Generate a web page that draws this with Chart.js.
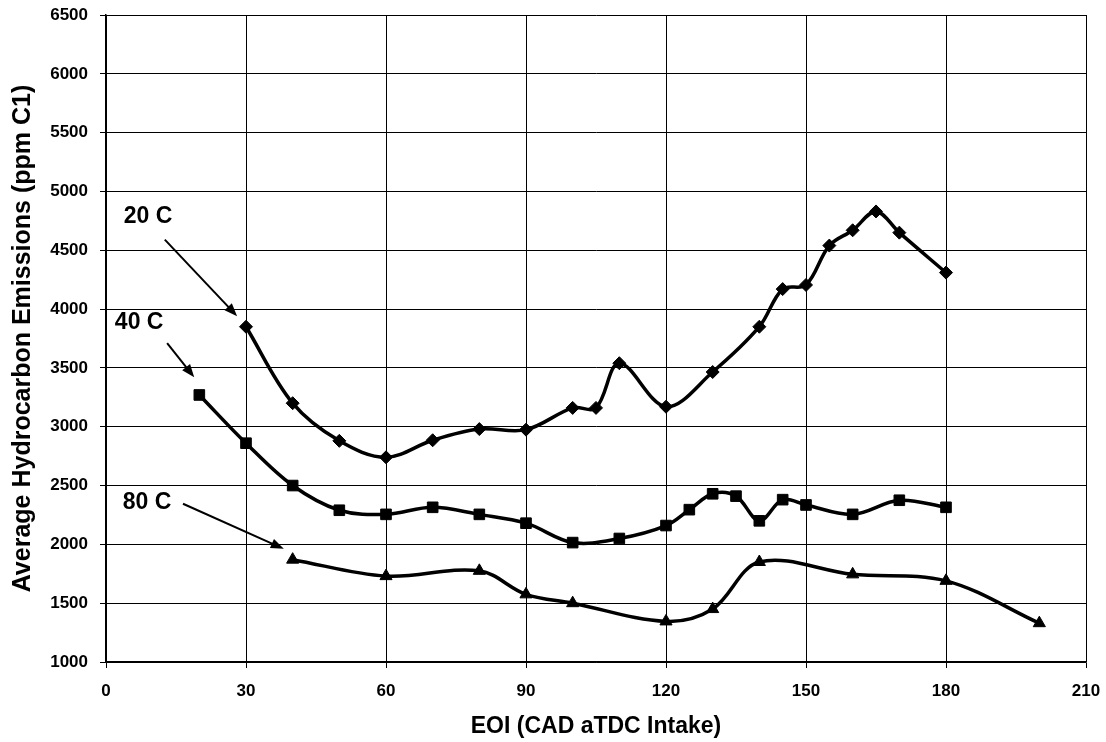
<!DOCTYPE html>
<html>
<head>
<meta charset="utf-8">
<script src="https://cdn.jsdelivr.net/npm/chart.js@4"></script>
<style>
  body { margin: 0; background: #fff; }
</style>
</head>
<body>
<canvas id="hcChart" width="1106" height="742"></canvas>
<script>
// data
const eoi20 = [30, 40, 50, 60, 70, 80, 90, 100, 105, 110, 120, 130, 140, 145, 150, 155, 160, 165, 170, 180];
const hc20 = [3850, 3200, 2880, 2740, 2885, 2980, 2975, 3160, 3160, 3540, 3170, 3465, 3850, 4170, 4205, 4540, 4670, 4830, 4650, 4310];

const eoi40 = [20, 30, 40, 50, 60, 70, 80, 90, 100, 110, 120, 125, 130, 135, 140, 145, 150, 160, 170, 180];
const hc40 = [3270, 2860, 2500, 2290, 2255, 2315, 2255, 2180, 2015, 2050, 2160, 2295, 2430, 2410, 2200, 2380, 2335, 2255, 2375, 2315];

const eoi80 = [40, 60, 80, 90, 100, 120, 130, 140, 160, 180, 200];
const hc80 = [1870, 1730, 1775, 1575, 1500, 1345, 1450, 1850, 1745, 1690, 1330];

const seriesNames = ['20 C', '40 C', '80 C'];
const xTicks = [0, 30, 60, 90, 120, 150, 180, 210];
const yTicks = [1000, 1500, 2000, 2500, 3000, 3500, 4000, 4500, 5000, 5500, 6000, 6500];

// label + arrow in data units: [text x, text y, arrow from x, y, arrow to x, y]
const callouts = [
  [9, 4790, 12.6, 4590, 28.1, 3940],
  [7.1, 3885, 13.1, 3710, 18.9, 3420],
  [8.8, 2355, 16.5, 2345, 38.1, 1962]
];

const font = 'Liberation Sans, Arial, sans-serif';

function pts(xs, ys) {
  return xs.map((x, i) => ({ x: x, y: ys[i] }));
}

const calloutPlugin = {
  id: 'callouts',
  afterDatasetsDraw(chart) {
    const ctx = chart.ctx;
    const xs = chart.scales.x, ys = chart.scales.y;
    ctx.save();
    ctx.fillStyle = '#000';
    ctx.strokeStyle = '#000';
    ctx.font = 'bold 23px ' + font;
    ctx.textAlign = 'center';
    ctx.textBaseline = 'middle';
    callouts.forEach((c, i) => {
      ctx.fillText(seriesNames[i], xs.getPixelForValue(c[0]), ys.getPixelForValue(c[1]));
      const x1 = xs.getPixelForValue(c[2]), y1 = ys.getPixelForValue(c[3]);
      const x2 = xs.getPixelForValue(c[4]), y2 = ys.getPixelForValue(c[5]);
      const ang = Math.atan2(y2 - y1, x2 - x1);
      const head = 13;
      ctx.lineWidth = 2;
      ctx.beginPath();
      ctx.moveTo(x1, y1);
      ctx.lineTo(x2 - Math.cos(ang) * head * 0.8, y2 - Math.sin(ang) * head * 0.8);
      ctx.stroke();
      ctx.beginPath();
      ctx.moveTo(x2, y2);
      ctx.lineTo(x2 - head * Math.cos(ang) + 5 * Math.sin(ang), y2 - head * Math.sin(ang) - 5 * Math.cos(ang));
      ctx.lineTo(x2 - head * Math.cos(ang) - 5 * Math.sin(ang), y2 - head * Math.sin(ang) + 5 * Math.cos(ang));
      ctx.closePath();
      ctx.fill();
    });
    ctx.restore();
  }
};

function ds(label, data, shape, size) {
  return {
    label: label,
    data: data,
    borderColor: '#000',
    backgroundColor: '#000',
    borderWidth: 3.5,
    tension: 0.35,
    pointStyle: shape,
    pointRadius: size,
    pointBorderWidth: 1,
    pointHoverRadius: size
  };
}

new Chart(document.getElementById('hcChart'), {
  type: 'line',
  data: {
    datasets: [
      ds(seriesNames[0], pts(eoi20, hc20), 'rectRot', 6.5),
      ds(seriesNames[1], pts(eoi40, hc40), 'rect', 7.5),
      ds(seriesNames[2], pts(eoi80, hc80), 'triangle', 7)
    ]
  },
  options: {
    responsive: false,
    animation: false,
    layout: { padding: { top: 15, right: 20, left: 0, bottom: 0 } },
    plugins: {
      legend: { display: false },
      tooltip: { enabled: false }
    },
    scales: {
      x: {
        type: 'linear',
        min: 0,
        max: 210,
        afterBuildTicks: (s) => { s.ticks = xTicks.map(v => ({ value: v })); },
        afterFit: (s) => { s.height = 80; s.paddingLeft = 0; s.paddingRight = 0; },
        grid: { color: '#000', lineWidth: 1, tickLength: 6 },
        border: { color: '#000', width: 1.5 },
        ticks: {
          color: '#000',
          font: { family: font, size: 17, weight: 'bold' },
          padding: 13,
          maxRotation: 0,
          callback: (v) => String(v)
        },
        title: {
          display: true,
          text: 'EOI (CAD aTDC Intake)',
          color: '#000',
          font: { family: font, size: 23, weight: 'bold' },
          padding: { top: 4, bottom: 2 }
        }
      },
      y: {
        min: 1000,
        max: 6500,
        afterBuildTicks: (s) => { s.ticks = yTicks.map(v => ({ value: v })); },
        afterFit: (s) => { s.width = 106; s.paddingTop = 0; s.paddingBottom = 0; },
        grid: { color: '#000', lineWidth: 1, tickLength: 6 },
        border: { color: '#000', width: 1.5 },
        ticks: {
          color: '#000',
          font: { family: font, size: 17, weight: 'bold' },
          padding: 12,
          callback: (v) => String(v)
        },
        title: {
          display: true,
          text: 'Average Hydrocarbon Emissions (ppm C1)',
          color: '#000',
          font: { family: font, size: 25, weight: 'bold' },
          padding: { top: 8, bottom: 0 }
        }
      }
    }
  },
  plugins: [calloutPlugin]
});
</script>
</body>
</html>
